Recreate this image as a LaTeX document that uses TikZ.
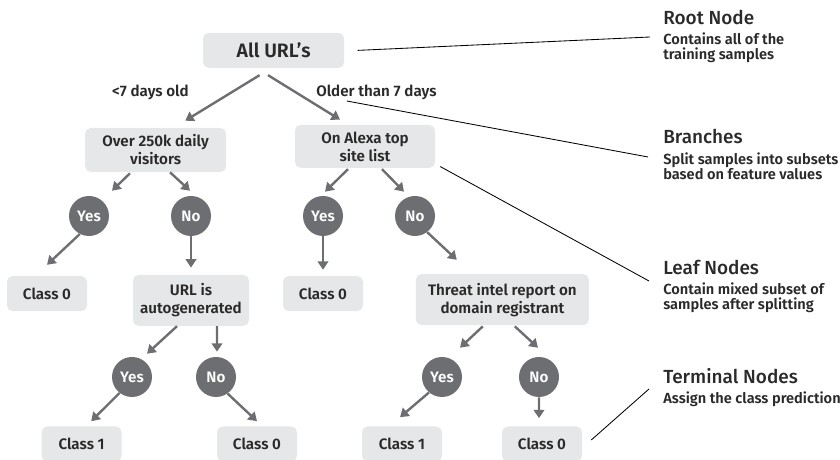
\documentclass[tikz,border=0pt]{standalone}
\usepackage{fontspec}
\setmainfont{Fira Sans}[BoldFont={Fira Sans SemiBold}]
\newfontfamily\mediumfont{Fira Sans Medium}
\usepackage{xcolor}
\usepackage{tikz}
\usetikzlibrary{arrows.meta, positioning}

\definecolor{boxgray}{HTML}{E6E7E8}
\definecolor{dotgray}{HTML}{6D6E71}
\definecolor{inkgray}{HTML}{2B2A2B}

\newcommand{\boxfont}{\fontsize{10.8}{12.8}\selectfont\bfseries}
\newcommand{\rootfont}{\fontsize{13.8}{15}\selectfont\bfseries}
\newcommand{\headfont}{\fontsize{13.5}{15}\selectfont\mediumfont}
\newcommand{\blurbfont}{\fontsize{10.4}{10.7}\selectfont\bfseries}

\tikzset{
    box/.style={rectangle, rounded corners=4pt, fill=boxgray, text=inkgray, align=center, font=\boxfont, inner sep=2pt},
    rootbox/.style={box, minimum width=3.525cm, minimum height=0.875cm, font=\rootfont},
    testbox/.style={box, minimum height=1.1cm},
    classbox/.style={box, minimum width=2cm, minimum height=0.875cm},
    answer/.style={circle, fill=dotgray, text=white, minimum size=1cm, inner sep=0pt, font=\boxfont},
    branch/.style={draw=dotgray, line width=1.7pt, -{Triangle[width=7.5pt,length=6pt]}},
    pointer/.style={draw=black, line width=0.6pt},
    edgelabel/.style={font=\boxfont, text=inkgray},
    % Legend styles
    heading/.style={anchor=west, font=\headfont, text=inkgray, inner sep=0pt},
    blurb/.style={font=\blurbfont, align=left, inner sep=0pt, text=inkgray}
}

\begin{document}
\begin{tikzpicture}
    \useasboundingbox (0, 0) rectangle (21, 11.5);

    % Root node
    \node[rootbox] (root) at (6.84, 10.24) {All URL's};
    \node[edgelabel] (young) at (3.76, 9.2) {<7 days old};
    \node[edgelabel] (older) at (9.41, 9.2) {Older than 7 days};

    % First split
    \node[testbox, minimum width=3.525cm] (visitors) at (3.89, 7.75) {Over 250k daily\\visitors};
    \node[testbox, minimum width=3.5cm, minimum height=1.075cm] (alexa) at (9.125, 7.84) {On Alexa top\\site list};

    \node[answer] (yes1) at (2.225, 6.1) {Yes};
    \node[answer] (no1) at (4.775, 6.1) {No};
    \node[answer] (yes2) at (8.075, 6.1) {Yes};
    \node[answer] (no2) at (10.375, 6.1) {No};

    % Second split
    \node[classbox] (classA) at (1.175, 4.16) {Class 0};
    \node[testbox, minimum width=2.9cm, minimum height=1.275cm] (autogen) at (4.775, 3.99) {URL is\\autogenerated};
    \node[classbox] (classB) at (8.075, 4.16) {Class 0};
    \node[testbox, minimum width=4.325cm, minimum height=1.275cm] (threat) at (12.56, 4.01) {Threat intel report on\\domain registrant};

    \node[answer] (yes3) at (3.3, 2.075) {Yes};
    \node[answer] (no3) at (5.4, 2.075) {No};
    \node[answer] (yes4) at (11.05, 2.075) {Yes};
    \node[answer] (no4) at (13.475, 2.075) {No};

    % Terminal row
    \node[classbox] (classC) at (2.04, 0.4) {Class 1};
    \node[classbox] (classD) at (6.425, 0.4) {Class 0};
    \node[classbox] (classE) at (10.05, 0.4) {Class 1};
    \node[classbox] (classF) at (13.55, 0.4) {Class 0};

    % Branch arrows
    \draw[branch] ([shift={(-0.35,-0.175)}]root.south) -- ([shift={(0.74,0.175)}]visitors.north);
    \draw[branch] ([shift={(-0.14,-0.175)}]root.south) -- ([shift={(-0.625,0.125)}]alexa.north);
    \draw[branch] ([shift={(-0.64,-0.025)}]visitors.south) -- ([shift={(0.575,0.125)}]yes1.north);
    \draw[branch] ([shift={(0.36,0)}]visitors.south) -- ([shift={(-0.025,0.125)}]no1.north);
    \draw[branch] ([shift={(-0.425,-0.025)}]alexa.south) -- ([shift={(0.05,0.1)}]yes2.north);
    \draw[branch] ([shift={(0.425,-0.025)}]alexa.south) -- ([shift={(-0.275,0.1)}]no2.north);
    \draw[branch] (yes1.243) -- ([yshift=0.275cm]classA.north);
    \draw[branch] (no1.south) -- ([yshift=0.175cm]autogen.north);
    \draw[branch] (yes2.south) -- ([yshift=0.15cm]classB.north);
    \draw[branch] (no2.307) -- ([shift={(-1.14,0.35)}]threat.north);
    \draw[branch] ([shift={(-0.35,0)}]autogen.south) -- ([shift={(0.375,0.075)}]yes3.north);
    \draw[branch] ([shift={(0.65,0)}]autogen.south) -- ([shift={(0.025,0.125)}]no3.north);
    \draw[branch] ([shift={(-0.49,-0.025)}]threat.south) -- ([shift={(0.45,0.225)}]yes4.north);
    \draw[branch] ([shift={(0.31,-0.025)}]threat.south) -- ([shift={(-0.025,0.225)}]no4.north);
    \draw[branch] (yes3.232) -- ([shift={(0.24,0.125)}]classC.north);
    \draw[branch] (no3.305) -- ([yshift=0.125cm]classD.north);
    \draw[branch] (yes4.230) -- ([shift={(-0.05,0.225)}]classE.north);
    \draw[branch] (no4.south) -- ([shift={(-0.075,0.2)}]classF.north);

    % Legend
    \node[heading] (rootlbl) at (16.575, 11.075) {Root Node};
    \node[blurb, below=5.5pt of rootlbl.south west, anchor=north west] (rootdesc) {Contains all of the\\training samples};
    \node[heading] (branchlbl) at (16.575, 8.075) {Branches};
    \node[blurb, below=5.5pt of branchlbl.south west, anchor=north west] (branchdesc) {Split samples into subsets\\based on feature values};
    \node[heading] (leaflbl) at (16.575, 4.825) {Leaf Nodes};
    \node[blurb, below=5.5pt of leaflbl.south west, anchor=north west] (leafdesc) {Contain mixed subset of\\samples after splitting};
    \node[heading] (termlbl) at (16.575, 2.1) {Terminal Nodes};
    \node[blurb, below=5.5pt of termlbl.south west, anchor=north west] (termdesc) {Assign the class prediction};

    % Pointer lines
    \coordinate (rootend) at (16.25, 10.575);
    \coordinate (branchend) at (16.2, 7.575);
    \coordinate (leafend) at (16.225, 4.475);
    \coordinate (termend) at (16.225, 1.775);
    \draw[pointer] ([xshift=0.33cm]root.east) -- (rootend);
    \draw[pointer] ([shift={(-0.74,-0.225)}]older.center) -- (branchend);
    \draw[pointer] ([shift={(0.125,0.04)}]alexa.south east) -- (leafend);
    \draw[pointer] ([shift={(0.225,0.1)}]classF.east) -- (termend);
\end{tikzpicture}
\end{document}
